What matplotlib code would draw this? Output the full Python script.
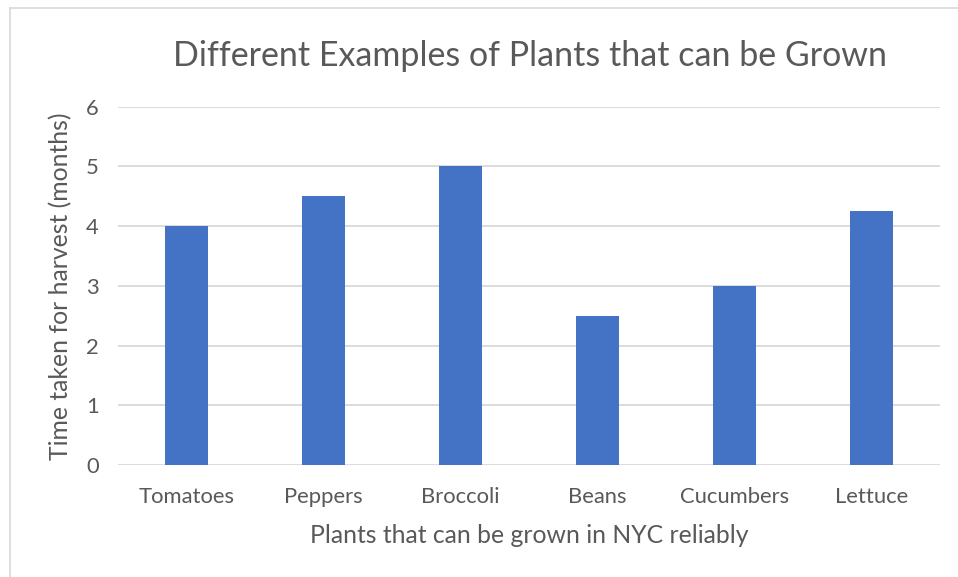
"""
harvest time bar chart
"""

import matplotlib.pyplot as plt
from matplotlib.lines import Line2D

plants = ["Tomatoes", "Peppers", "Broccoli", "Beans", "Cucumbers", "Lettuce"]
months = [4, 4.5, 5, 2.5, 3, 4.25]
y_ticks = [0, 1, 2, 3, 4, 5, 6]

plt.rcParams["font.family"] = ["Lato", "DejaVu Sans"]
text_color = "#595959"
grid_color = "#d9d9d9"

fig = plt.figure(figsize=(9.58, 5.77), dpi=100)
ax = fig.add_axes([0.1232, 0.1941, 0.8580, 0.6213])

# chart frame, only the left and top edges fall inside the canvas
fig.add_artist(Line2D([10 / 958, 10 / 958], [0, 1 - 8 / 577],
                      transform=fig.transFigure, color=grid_color, lw=1.2))
fig.add_artist(Line2D([10 / 958, 1], [1 - 8 / 577, 1 - 8 / 577],
                      transform=fig.transFigure, color=grid_color, lw=1.2))

x = range(len(plants))
ax.bar(x, months, width=0.31, color="#4472c4", zorder=3)

ax.set_xlim(-0.5, len(plants) - 0.5)
ax.set_ylim(0, 6)
ax.set_yticks(y_ticks)
ax.set_xticks(list(x))
ax.set_xticklabels(plants)
ax.yaxis.grid(True, color=grid_color, lw=1.3, zorder=0)
ax.tick_params(length=0, labelsize=15.8, colors=text_color)
ax.tick_params(axis="x", pad=16)
ax.tick_params(axis="y", pad=14)
for side in ["top", "right", "left", "bottom"]:
    ax.spines[side].set_visible(False)

fig.text(0.553, 0.903, "Different Examples of Plants that can be Grown",
         ha="center", va="center", fontsize=24.5, color=text_color)
ax.set_xlabel("Plants that can be grown in NYC reliably", fontsize=17.8,
              color=text_color, labelpad=12)
ax.set_ylabel("Time taken for harvest (months)", fontsize=17.8,
              color=text_color, labelpad=10)

fig.savefig("out.png", dpi=100)
